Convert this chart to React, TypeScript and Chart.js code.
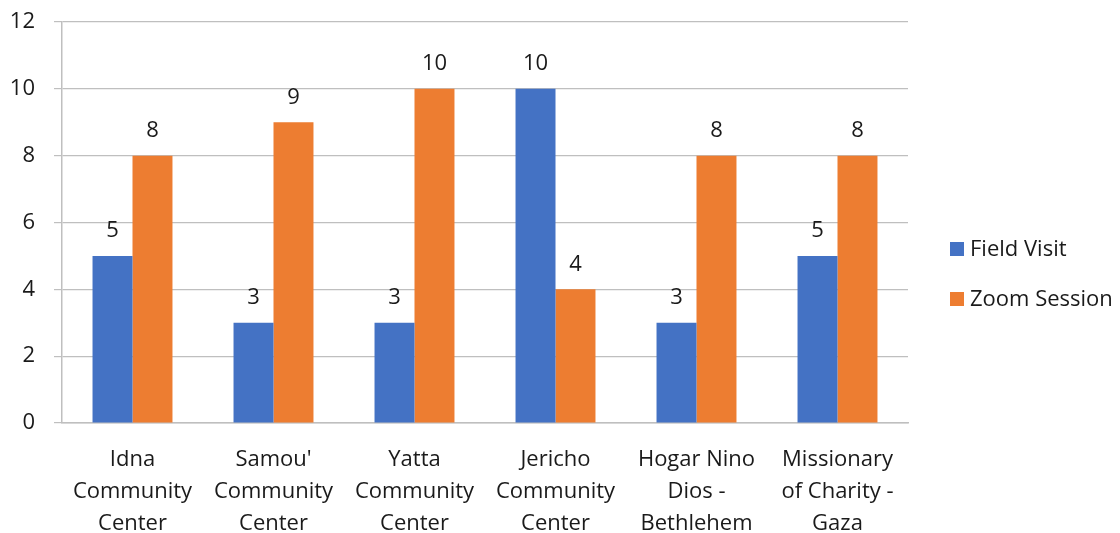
import React, { useEffect, useRef } from "react";
import { Chart, registerables } from "chart.js";

Chart.register(...registerables);

const categories: string[][] = [
  ["Idna", "Community", "Center"],
  ["Samou'", "Community", "Center"],
  ["Yatta", "Community", "Center"],
  ["Jericho", "Community", "Center"],
  ["Hogar Nino", "Dios -", "Bethlehem"],
  ["Missionary", "of Charity -", "Gaza"],
];
const fieldVisit: number[] = [5, 3, 3, 10, 3, 5];
const zoomSession: number[] = [8, 9, 10, 4, 8, 8];
const seriesNames: string[] = ["Field Visit", "Zoom Session"];
const seriesColors: string[] = ["#4472C4", "#ED7D31"];
const yTicks: number[] = [0, 2, 4, 6, 8, 10, 12];

const FONT = "'Open Sans', sans-serif";
const TEXT = "#1a1a1a";

const valueLabels = {
  id: "valueLabels",
  afterDatasetsDraw(chart: any) {
    const ctx = chart.ctx;
    ctx.save();
    ctx.font = `22px ${FONT}`;
    ctx.fillStyle = TEXT;
    ctx.textAlign = "center";
    ctx.textBaseline = "middle";
    chart.data.datasets.forEach((ds: any, i: number) => {
      const meta = chart.getDatasetMeta(i);
      meta.data.forEach((bar: any, j: number) => {
        ctx.fillText(String(ds.data[j]), bar.x, bar.y - 25);
      });
    });
    ctx.restore();
  },
};

const customLegend = {
  id: "customLegend",
  afterDraw(chart: any) {
    const ctx = chart.ctx;
    ctx.save();
    ctx.font = `22px ${FONT}`;
    ctx.textBaseline = "middle";
    ctx.textAlign = "left";
    const x = 950;
    const ys = [250, 300];
    seriesNames.forEach((name, i) => {
      ctx.fillStyle = seriesColors[i];
      ctx.fillRect(x, ys[i] - 8, 14, 14);
      ctx.fillStyle = TEXT;
      ctx.fillText(name, x + 20, ys[i]);
    });
    ctx.restore();
  },
};

export default function App() {
  const ref = useRef<HTMLCanvasElement | null>(null);
  useEffect(() => {
    if (!ref.current) return;
    const chart = new Chart(ref.current, {
      type: "bar",
      data: {
        labels: categories,
        datasets: [
          { label: seriesNames[0], data: fieldVisit, backgroundColor: seriesColors[0] },
          { label: seriesNames[1], data: zoomSession, backgroundColor: seriesColors[1] },
        ],
      },
      options: {
        animation: false,
        responsive: false,
        maintainAspectRatio: false,
        layout: { padding: { top: 22, right: 212, left: 0, bottom: 0 } },
        datasets: { bar: { categoryPercentage: 0.567, barPercentage: 1.0 } },
        plugins: {
          legend: { display: false },
          tooltip: { enabled: false },
        },
        scales: {
          x: {
            grid: { display: false, drawTicks: false },
            border: { display: true, color: "#BFBFBF", width: 1.5 },
            ticks: {
              font: { family: FONT, size: 22, lineHeight: 1.45 },
              color: TEXT,
              padding: 21,
              maxRotation: 0,
              autoSkip: false,
            },
            afterFit(scale: any) {
              scale.height = 110;
              scale.paddingLeft = 0;
              scale.paddingRight = 0;
            },
          },
          y: {
            min: 0,
            max: 12,
            afterBuildTicks(scale: any) {
              scale.ticks = yTicks.map((v) => ({ value: v }));
            },
            grid: { color: "#BFBFBF", lineWidth: 1.2, tickLength: 8 },
            border: { display: true, color: "#BFBFBF", width: 1.5 },
            ticks: {
              font: { family: FONT, size: 22 },
              color: TEXT,
              padding: 19,
            },
            afterFit(scale: any) {
              scale.width = 62;
              scale.paddingTop = 0;
              scale.paddingBottom = 0;
            },
          },
        },
      },
      plugins: [valueLabels, customLegend],
    });
    return () => chart.destroy();
  }, []);
  return (
    <div style={{ position: "fixed", left: 0, top: 0, width: 1120, height: 533, background: "#fff" }}>
      <canvas ref={ref} width={1120} height={533} style={{ width: 1120, height: 533 }} />
    </div>
  );
}
